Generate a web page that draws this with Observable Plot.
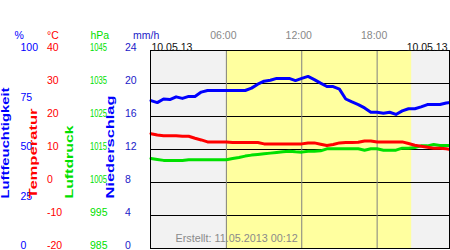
<!DOCTYPE html>
<html><head><meta charset="utf-8">
<script src="https://cdn.jsdelivr.net/npm/d3@7"></script>
<script src="https://cdn.jsdelivr.net/npm/@observablehq/plot@0.6"></script>
<style>body{margin:0;background:#fff} svg{display:block}</style>
</head><body><div id="chart"></div>
<script>
const hours = [0,0.5,1,1.5,2,2.5,3,3.5,4,4.5,5,5.5,6,6.5,7,7.5,8,8.5,9,9.5,10,10.5,11,11.5,12,12.5,13,13.5,14,14.5,15,15.5,16,16.5,17,17.5,18,18.5,19,19.5,20,20.5,21,21.5,22,22.5,23,23.5,24];
const humidity = [74.7,73.7,75.5,75.2,76.6,75.8,76.8,76.8,79.0,79.8,79.8,79.8,79.8,79.8,79.8,79.8,81.0,83.0,84.5,85.0,85.9,85.9,85.9,84.8,85.9,86.9,85.3,83.5,81.8,81.8,80.5,75.5,74.0,72.7,71.0,68.8,68.8,68.3,68.8,67.7,69.5,70.6,70.6,71.5,72.7,72.7,72.7,73.5,73.9];
const temperature = [14.8,14.4,14.2,14.2,14.2,14.0,14.0,13.4,12.9,12.3,12.3,12.3,12.3,12.1,12.1,12.1,12.1,12.1,11.7,11.7,11.7,11.7,11.7,11.7,11.7,12.0,12.0,11.6,11.2,11.5,12.0,12.1,12.1,12.2,12.6,12.6,12.3,12.3,12.3,12.3,12.3,11.8,11.3,11.0,10.7,10.4,10.4,10.2,9.9];
const pressure = [1012.3,1012.0,1011.7,1011.7,1011.7,1011.7,1011.9,1011.9,1011.9,1011.9,1011.9,1011.9,1011.9,1012.3,1012.6,1013.0,1013.3,1013.5,1013.7,1013.9,1014.1,1014.3,1014.5,1014.3,1014.2,1014.5,1014.5,1014.6,1015.2,1015.2,1015.2,1015.2,1015.2,1015.2,1014.8,1015.2,1015.2,1014.8,1014.8,1014.8,1015.4,1015.4,1015.6,1016.1,1016.1,1016.5,1016.2,1016.2,1016.2];

const humidityTicks = [0,25,50,75,100];
const temperatureTicks = [-20,-10,0,10,20,30,40];
const pressureTicks = [985,995,1005,1015,1025,1035,1045];
const precipTicks = [0,4,8,12,16,20,24];
const timeTicks = [6,12,18];
const timeLabels = ["06:00","12:00","18:00"];
const daylight = [[6.0, 20.75]];
const unitLabels = ["%","°C","hPa","mm/h"];
const seriesNames = ["Luftfeuchtigkeit","Temperatur","Luftdruck","Niederschlag"];
const dateLabel = "10.05.13";
const createdLabel = "Erstellt: 11.05.2013 00:12";

// map every series onto the common 0–100 (%) vertical scale
const tPct = t => (t + 20) / 60 * 100;
const pPct = p => (p - 985) / 60 * 100;
const rPct = r => r / 24 * 100;

const rows = hours.map((h, i) => ({h, hum: humidity[i], temp: temperature[i], pres: pressure[i]}));

const BLUE = "#0000ff", RED = "#ff0000", GREEN = "#00e000", NAVY = "#1a1ac8";
const fs = 10.5;
const L = 150;

const plot = Plot.plot({
  width: 450, height: 250,
  marginLeft: L, marginRight: 1, marginTop: 50, marginBottom: 2,
  x: {domain: [0, 24], range: [150.5, 452], axis: null},
  y: {domain: [0, 100], axis: null},
  style: {fontFamily: "Liberation Sans, Arial, sans-serif", fontSize: fs + "px", background: "#fff", overflow: "visible"},
  marks: [
    Plot.frame({fill: "#f2f2f2"}),
    Plot.rect(daylight, {x1: d => d[0], x2: d => d[1], fill: "#ffff9f"}),
    Plot.ruleY(temperatureTicks.slice(1, -1), {y: tPct, stroke: "#000", strokeWidth: 1}),
    Plot.ruleX(timeTicks, {x: d => d, stroke: "#808080", strokeWidth: 1}),
    Plot.line(rows, {x: "h", y: d => pPct(d.pres), stroke: GREEN, strokeWidth: 3}),
    Plot.line(rows, {x: "h", y: d => tPct(d.temp), stroke: RED, strokeWidth: 3}),
    Plot.line(rows, {x: "h", y: "hum", stroke: BLUE, strokeWidth: 3}),
    Plot.frame({stroke: "#000", strokeWidth: 1}),
    // top time labels
    Plot.text(timeTicks, {x: d => d, text: (d, i) => timeLabels[i], frameAnchor: "top", dy: -19, dx: -3, fill: "#888", fontSize: fs}),
    Plot.text([dateLabel], {frameAnchor: "top-left", textAnchor: "start", dx: 1, dy: -7, fill: "#111", fontSize: fs}),
    Plot.text([dateLabel], {frameAnchor: "top-right", textAnchor: "end", dx: -2, dy: -7, fill: "#111", fontSize: fs}),
    Plot.text([createdLabel], {frameAnchor: "bottom-left", textAnchor: "start", dx: 25, dy: -7, fill: "#8a8a8a", fontSize: 10.8}),
    // unit headers
    Plot.text([unitLabels[0]], {frameAnchor: "top-left", dx: 14 - L, dy: -19, fill: BLUE, fontSize: fs}),
    Plot.text([unitLabels[1]], {frameAnchor: "top-left", dx: 46.5 - L, dy: -19, fill: RED, fontSize: fs}),
    Plot.text([unitLabels[2]], {frameAnchor: "top-left", dx: 90 - L, dy: -19, fill: GREEN, fontSize: fs}),
    Plot.text([unitLabels[3]], {frameAnchor: "top-left", dx: 132.5 - L, dy: -19, fill: NAVY, fontSize: fs}),
    // tick labels
    Plot.text(humidityTicks, {y: d => d, text: d => String(d), frameAnchor: "left", dx: 20 - L, dy: -2.5, fill: BLUE, fontSize: fs}),
    Plot.text(temperatureTicks, {y: tPct, text: d => String(d), frameAnchor: "left", dx: 46.5 - L, dy: -2.5, fill: RED, fontSize: fs}),
    Plot.text(pressureTicks, {y: pPct, text: d => String(d), frameAnchor: "left", dx: 89.5 - L, dy: -2.5, fill: GREEN, fontSize: fs}),
    Plot.text(precipTicks, {y: rPct, text: d => String(d), frameAnchor: "left", dx: 124.5 - L, dy: -2.5, fill: NAVY, fontSize: fs}),
    // rotated series names
    Plot.text([seriesNames[0]], {frameAnchor: "bottom-left", textAnchor: "start", rotate: -90, dx: 8 - L, dy: -50, fill: BLUE, fontWeight: "bold", fontSize: 10}),
    Plot.text([seriesNames[1]], {frameAnchor: "bottom-left", textAnchor: "start", rotate: -90, dx: 36 - L, dy: -50, fill: RED, fontWeight: "bold", fontSize: 10}),
    Plot.text([seriesNames[2]], {frameAnchor: "bottom-left", textAnchor: "start", rotate: -90, dx: 72.5 - L, dy: -50, fill: GREEN, fontWeight: "bold", fontSize: 10}),
    Plot.text([seriesNames[3]], {frameAnchor: "bottom-left", textAnchor: "start", rotate: -90, dx: 113.5 - L, dy: -50, fill: BLUE, fontWeight: "bold", fontSize: 10})
  ]
});

// stretch/condense some texts to match the reference glyph widths
const lengths = {"Luftfeuchtigkeit": 111, "Temperatur": 90, "Luftdruck": 73, "Niederschlag": 103,
  "1045": 17, "1035": 17, "1025": 17, "1015": 17, "1005": 17};
plot.querySelectorAll("text").forEach(t => {
  const s = t.textContent;
  if (lengths[s]) { t.setAttribute("textLength", lengths[s]); t.setAttribute("lengthAdjust", "spacingAndGlyphs"); }
});
document.getElementById("chart").appendChild(plot);
</script>
</body></html>
